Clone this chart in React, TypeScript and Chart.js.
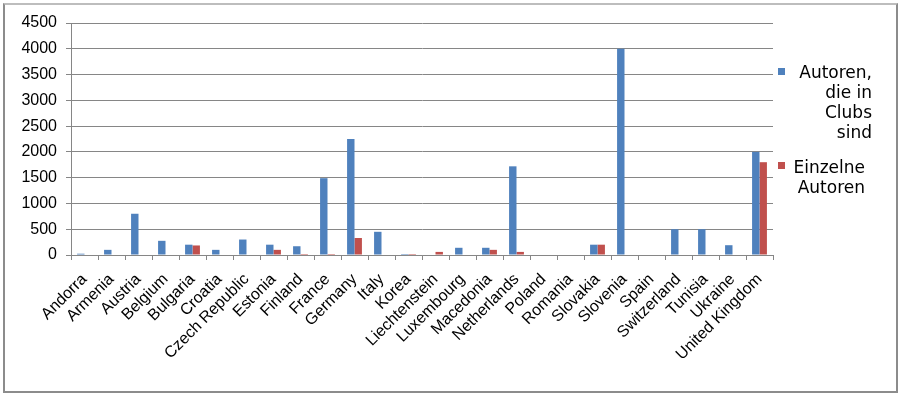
import React, { useEffect, useRef } from "react";
import { Chart, registerables } from "chart.js";

Chart.register(...registerables);

const categories = [
  "Andorra", "Armenia", "Austria", "Belgium", "Bulgaria", "Croatia", "Czech Republic",
  "Estonia", "Finland", "France", "Germany", "Italy", "Korea", "Liechtenstein",
  "Luxembourg", "Macedonia", "Netherlands", "Poland", "Romania", "Slovakia",
  "Slovenia", "Spain", "Switzerland", "Tunisia", "Ukraine", "United Kingdom",
];

const clubAuthors = [25, 100, 800, 275, 200, 100, 300, 200, 170, 1490, 2250, 450, 20, 0, 140, 140, 1720, 0, 0, 200, 4000, 0, 500, 500, 190, 2000];
const singleAuthors = [0, 0, 0, 0, 185, 0, 0, 100, 20, 20, 330, 0, 20, 60, 0, 100, 60, 0, 0, 200, 0, 0, 10, 0, 0, 1800];

const seriesNames = ["Autoren, die in Clubs sind", "Einzelne Autoren"];
const legendLines1 = ["Autoren,", "die in", "Clubs", "sind"];
const legendLines2 = ["Einzelne", "Autoren"];

const yTicks = { min: 0, max: 4500, step: 500 };

const BLUE = "#4F81BD";
const RED = "#C0504D";
const GRID = "#868686";
const AXIS_FONT = "'Liberation Sans', Arial, sans-serif";

export default function App() {
  const canvasRef = useRef<HTMLCanvasElement | null>(null);

  useEffect(() => {
    const canvas = canvasRef.current;
    if (!canvas) return;
    const chart = new Chart(canvas, {
      type: "bar",
      data: {
        labels: categories,
        datasets: [
          { label: seriesNames[0], data: clubAuthors, backgroundColor: BLUE, categoryPercentage: 0.55, barPercentage: 1.0 },
          { label: seriesNames[1], data: singleAuthors, backgroundColor: RED, categoryPercentage: 0.55, barPercentage: 1.0 },
        ],
      },
      options: {
        responsive: false,
        animation: false,
        devicePixelRatio: 1,
        layout: { padding: { left: 0, right: 127, top: 23, bottom: 0 } },
        plugins: { legend: { display: false }, tooltip: { enabled: false } },
        scales: {
          x: {
            afterFit: (scale: any) => { scale.height = 141; },
            grid: { display: true, drawOnChartArea: false, drawTicks: true, tickLength: 5, color: GRID, offset: true },
            border: { display: true, color: GRID, width: 1 },
            ticks: {
              autoSkip: false,
              minRotation: 45,
              maxRotation: 45,
              padding: 10,
              color: "#000",
              font: { family: AXIS_FONT, size: 16 },
            },
          },
          y: {
            min: yTicks.min,
            max: yTicks.max,
            afterFit: (scale: any) => { scale.width = 71; },
            grid: { color: GRID, tickLength: 5, drawTicks: true },
            border: { display: true, color: GRID, width: 1 },
            ticks: {
              stepSize: yTicks.step,
              padding: 9,
              color: "#000",
              font: { family: AXIS_FONT, size: 16 },
              callback: (v: any) => String(v),
            },
          },
        },
      },
    });
    return () => chart.destroy();
  }, []);

  const legendFont: React.CSSProperties = {
    position: "absolute",
    fontFamily: "'DejaVu Sans', Verdana, sans-serif",
    fontSize: 17,
    lineHeight: "20px",
    textAlign: "right",
    color: "#000",
  };

  return (
    <div style={{ position: "fixed", left: 0, top: 0, width: 900, height: 396, background: "#fff", overflow: "hidden" }}>
      <canvas ref={canvasRef} width={900} height={396} style={{ position: "absolute", left: 0, top: 0, width: 900, height: 396 }} />
      <div style={{ position: "absolute", left: 3, top: 3, width: 895, height: 390, boxSizing: "border-box", border: "2px solid #8c8c8c", borderTopColor: "#bdbdbd" }} />
      <div style={{ position: "absolute", left: 778, top: 68, width: 7, height: 7, background: BLUE }} />
      <div style={{ ...legendFont, left: 780, top: 62, width: 92 }}>
        {legendLines1.map((l, i) => <div key={i}>{l}</div>)}
      </div>
      <div style={{ position: "absolute", left: 778, top: 162, width: 7, height: 7, background: RED }} />
      <div style={{ ...legendFont, left: 773, top: 157, width: 92 }}>
        {legendLines2.map((l, i) => <div key={i}>{l}</div>)}
      </div>
    </div>
  );
}
